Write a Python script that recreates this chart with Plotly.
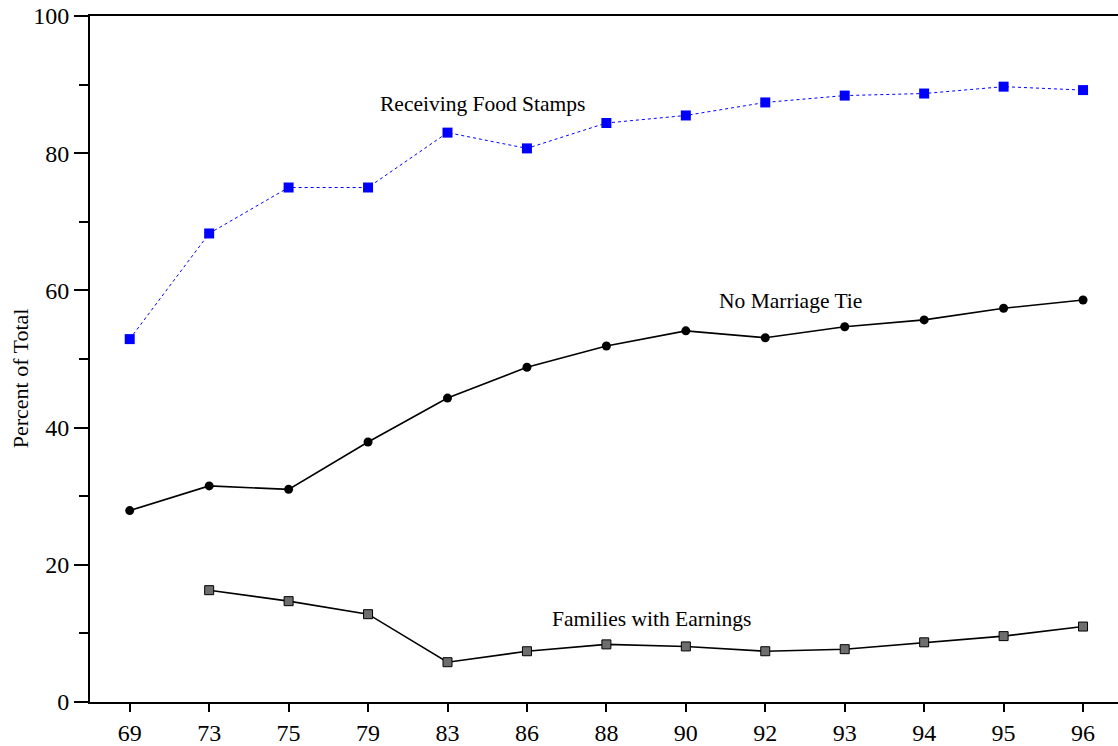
import plotly.graph_objects as go

years = ["69", "73", "75", "79", "83", "86", "88", "90", "92", "93", "94", "95", "96"]
food_stamps = [52.9, 68.3, 75.0, 75.0, 83.0, 80.7, 84.4, 85.5, 87.4, 88.4, 88.7, 89.7, 89.2]
no_marriage = [27.9, 31.5, 31.0, 37.9, 44.3, 48.8, 51.9, 54.1, 53.1, 54.7, 55.7, 57.4, 58.6]
earnings = [None, 16.3, 14.7, 12.8, 5.8, 7.4, 8.4, 8.1, 7.4, 7.7, 8.7, 9.6, 11.0]

FONT = "Liberation Serif, Times New Roman, serif"

fig = go.Figure()
fig.add_trace(go.Scatter(
    x=years, y=food_stamps, mode="lines+markers",
    line=dict(color="#0000ff", width=1, dash="dot"),
    marker=dict(symbol="square", size=10, color="#0000ff"),
    name="Receiving Food Stamps"))
fig.add_trace(go.Scatter(
    x=years, y=no_marriage, mode="lines+markers",
    line=dict(color="black", width=1.6),
    marker=dict(symbol="circle", size=9, color="black"),
    name="No Marriage Tie"))
fig.add_trace(go.Scatter(
    x=years, y=earnings, mode="lines+markers",
    line=dict(color="black", width=1.6),
    marker=dict(symbol="square", size=9, color="#6e6e6e", line=dict(color="black", width=1)),
    name="Families with Earnings"))

fig.add_annotation(x=4.445, y=87.1, text="Receiving Food Stamps", showarrow=False,
                   font=dict(family=FONT, size=21.5, color="black"))
fig.add_annotation(x=8.32, y=58.4, text="No Marriage Tie", showarrow=False,
                   font=dict(family=FONT, size=21.5, color="black"))
fig.add_annotation(x=6.57, y=12.1, text="Families with Earnings", showarrow=False,
                   font=dict(family=FONT, size=21.5, color="black"))
fig.add_annotation(xref="paper", yref="paper", x=-0.068, y=0.472, text="Percent of Total",
                   textangle=-90, showarrow=False, xanchor="center", yanchor="middle",
                   font=dict(family=FONT, size=22, color="black"))

fig.update_layout(
    width=1118, height=746,
    margin=dict(l=90, r=0, t=16, b=38),
    paper_bgcolor="white", plot_bgcolor="white",
    showlegend=False,
    font=dict(family=FONT, size=24, color="black"),
    xaxis=dict(type="category", range=[-0.5, 12.44], showgrid=False, zeroline=False,
               showline=True, linecolor="black", linewidth=2, mirror=True,
               ticks="outside", ticklen=8, tickwidth=2, tickcolor="black",
               tickfont=dict(family=FONT, size=24)),
    yaxis=dict(range=[0, 100], showgrid=False, zeroline=False,
               showline=True, linecolor="black", linewidth=2,
               tickvals=[0, 20, 40, 60, 80, 100],
               ticks="outside", ticklen=14, tickwidth=2, tickcolor="black",
               minor=dict(tickvals=[10, 30, 50, 70, 90], ticks="outside", ticklen=9,
                          tickwidth=2, tickcolor="black"),
               tickfont=dict(family=FONT, size=24)),
)

fig.write_html("out.html", config={"displayModeBar": False},
               post_script="document.body.style.margin='0';document.body.style.padding='0';")
